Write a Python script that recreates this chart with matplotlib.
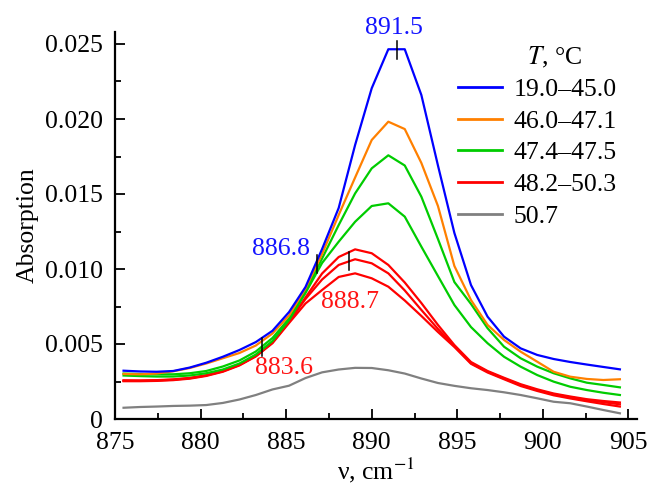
import matplotlib
matplotlib.use("Agg")
import matplotlib.pyplot as plt
from matplotlib.ticker import MultipleLocator, FuncFormatter

FONT = 'Liberation Serif'
FS = 18.5
plt.rcParams['font.family'] = 'serif'
plt.rcParams['font.serif'] = [FONT, 'DejaVu Serif']
plt.rcParams['mathtext.fontset'] = 'stix'

# wavenumber grid (cm^-1)
wavenumber = [875.50, 876.47, 877.43, 878.40, 879.37, 880.33, 881.30, 882.27, 883.23, 884.20,
              885.17, 886.13, 887.10, 888.07, 889.03, 890.00, 890.97, 891.93, 892.90, 893.87,
              894.83, 895.80, 896.77, 897.73, 898.70, 899.67, 900.63, 901.60, 902.57, 903.53,
              904.50]

blue_19_45 = [0.00322, 0.00317, 0.00315, 0.00320, 0.00343, 0.00375, 0.00415, 0.00460, 0.00513, 0.00588,
              0.00713, 0.00880, 0.01133, 0.01407, 0.01827, 0.02205, 0.02465, 0.02465, 0.02160, 0.01690,
              0.01240, 0.00893, 0.00682, 0.00549, 0.00471, 0.00427, 0.00400, 0.00380, 0.00363, 0.00347,
              0.00331]

orange_46_47 = [0.00300, 0.00298, 0.00303, 0.00318, 0.00340, 0.00370, 0.00405, 0.00440, 0.00490, 0.00570,
                0.00690, 0.00870, 0.01100, 0.01360, 0.01610, 0.01860, 0.01982, 0.01933, 0.01707, 0.01420,
                0.01020, 0.00793, 0.00627, 0.00527, 0.00449, 0.00382, 0.00315, 0.00282, 0.00267, 0.00260,
                0.00265]

green_a = [0.00303, 0.00300, 0.00298, 0.00298, 0.00305, 0.00320, 0.00350, 0.00390, 0.00450, 0.00540,
           0.00670, 0.00850, 0.01070, 0.01293, 0.01504, 0.01671, 0.01758, 0.01690, 0.01482, 0.01200,
           0.00913, 0.00767, 0.00605, 0.00482, 0.00405, 0.00349, 0.00305, 0.00271, 0.00242, 0.00227,
           0.00211]

green_b = [0.00290, 0.00286, 0.00283, 0.00283, 0.00290, 0.00305, 0.00330, 0.00370, 0.00430, 0.00520,
           0.00660, 0.00840, 0.01040, 0.01182, 0.01315, 0.01420, 0.01438, 0.01349, 0.01149, 0.00953,
           0.00760, 0.00613, 0.00505, 0.00415, 0.00349, 0.00293, 0.00249, 0.00215, 0.00193, 0.00175,
           0.00160]

red_a = [0.00258, 0.00257, 0.00259, 0.00264, 0.00274, 0.00292, 0.00320, 0.00362, 0.00422, 0.00512,
         0.00650, 0.00810, 0.00970, 0.01080, 0.01131, 0.01105, 0.01027, 0.00910, 0.00773, 0.00627,
         0.00493, 0.00380, 0.00320, 0.00275, 0.00232, 0.00198, 0.00170, 0.00150, 0.00132, 0.00120,
         0.00110]

red_b = [0.00255, 0.00255, 0.00257, 0.00262, 0.00272, 0.00290, 0.00318, 0.00360, 0.00420, 0.00510,
         0.00650, 0.00800, 0.00930, 0.01027, 0.01065, 0.01038, 0.00971, 0.00857, 0.00727, 0.00600,
         0.00487, 0.00373, 0.00315, 0.00270, 0.00227, 0.00193, 0.00165, 0.00145, 0.00127, 0.00112,
         0.00098]

red_c = [0.00252, 0.00252, 0.00254, 0.00259, 0.00269, 0.00287, 0.00315, 0.00357, 0.00417, 0.00505,
         0.00640, 0.00770, 0.00860, 0.00947, 0.00971, 0.00938, 0.00882, 0.00790, 0.00687, 0.00580,
         0.00480, 0.00368, 0.00310, 0.00265, 0.00220, 0.00187, 0.00158, 0.00137, 0.00118, 0.00100,
         0.00083]

gray_50_7 = [0.00075, 0.00080, 0.00083, 0.00087, 0.00089, 0.00093, 0.00107, 0.00130, 0.00160, 0.00197,
             0.00222, 0.00273, 0.00311, 0.00330, 0.00341, 0.00340, 0.00325, 0.00303, 0.00270, 0.00240,
             0.00221, 0.00205, 0.00193, 0.00178, 0.00160, 0.00138, 0.00115, 0.00105, 0.00083, 0.00060,
             0.00038]

legend_labels = ['19.0–45.0', '46.0–47.1', '47.4–47.5', '48.2–50.3', '50.7']

# marked band positions and their absorbance levels
peak_pos = [891.5, 886.8, 888.7, 883.6]
peak_level = [0.02459, 0.01033, 0.01054, 0.00479]
peak_text = ['891.5', '886.8', '888.7', '883.6']
peak_text_color = ['#1414ff', '#1414ff', '#ff1414', '#ff1414']
peak_text_xy = [(891.3, 0.02610), (884.71, 0.01133), (888.74, 0.00777), (884.85, 0.00340)]

C_BLUE = '#0000ff'
C_ORANGE = '#ff8000'
C_GREEN = '#00cc00'
C_RED = '#ff0000'
C_GRAY = '#808080'

fig = plt.figure(figsize=(6.49, 4.84), dpi=100)
ax = fig.add_axes([115/649, 1-419/484, (637-115)/649, (419-32)/484])

lw = 1.6
h_gray, = ax.plot(wavenumber, gray_50_7, color=C_GRAY, lw=lw)
h_r3, = ax.plot(wavenumber, red_c, color=C_RED, lw=lw)
h_r2, = ax.plot(wavenumber, red_b, color=C_RED, lw=lw)
h_r1, = ax.plot(wavenumber, red_a, color=C_RED, lw=lw)
h_g2, = ax.plot(wavenumber, green_b, color=C_GREEN, lw=lw)
h_g1, = ax.plot(wavenumber, green_a, color=C_GREEN, lw=lw)
h_or, = ax.plot(wavenumber, orange_46_47, color=C_ORANGE, lw=lw)
h_bl, = ax.plot(wavenumber, blue_19_45, color=C_BLUE, lw=lw)

half = 0.0006
for p, lvl in zip(peak_pos, peak_level):
    ax.plot([p, p], [lvl - half, lvl + half], color='black', lw=1.1, clip_on=False, zorder=5)

for t, c, (tx, ty) in zip(peak_text, peak_text_color, peak_text_xy):
    ax.text(tx, ty, t, color=c, fontsize=FS, fontfamily=FONT, ha='center', va='center', clip_on=False)

ax.set_xlim(875, 905.5)
ax.set_ylim(0, 0.0258)
ax.xaxis.set_major_locator(MultipleLocator(5))
ax.xaxis.set_minor_locator(MultipleLocator(2.5))
ax.yaxis.set_major_locator(MultipleLocator(0.005))
ax.yaxis.set_minor_locator(MultipleLocator(0.0025))
ax.yaxis.set_major_formatter(FuncFormatter(lambda v, p: '0' if abs(v) < 1e-12 else f'{v:.3f}'))
ax.tick_params(which='both', direction='in', width=1.3, labelsize=FS, colors='black',
               labelfontfamily=FONT)
ax.tick_params(which='major', length=7.5)
ax.tick_params(which='minor', length=4.5)
ax.tick_params(axis='y', which='major', pad=9)
ax.tick_params(axis='x', which='major', pad=9.5)
for s in ['top', 'right']:
    ax.spines[s].set_visible(False)
for s in ['left', 'bottom']:
    ax.spines[s].set_linewidth(1.6)

ax.set_ylabel('Absorption', fontsize=FS, fontfamily=FONT, labelpad=4)
ax.set_xlabel(r'ν, cm$^{-1}$', fontsize=FS, fontfamily=FONT, labelpad=1)

leg = fig.legend([h_bl, h_or, h_g1, h_r1, h_gray], legend_labels,
                 loc='upper left', bbox_to_anchor=(458/649, 1-78/484),
                 frameon=False, handlelength=1.7, handletextpad=0.45,
                 labelspacing=0.34, borderpad=0, borderaxespad=0,
                 prop={'family': FONT, 'size': FS})
for h in leg.legend_handles:
    h.set_linewidth(2.0)
fig.text(555/649, 1-57/484, r'$T$, °C', fontsize=FS, fontfamily=FONT, ha='center', va='center')

fig.savefig('out.png', dpi=100)
